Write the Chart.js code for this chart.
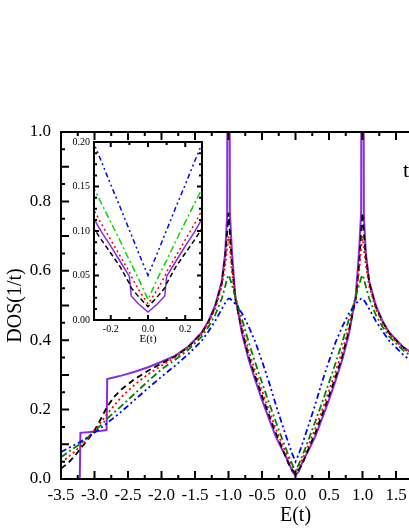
<!DOCTYPE html>
<html>
<head>
<meta charset="utf-8">
<script src="https://cdn.jsdelivr.net/npm/chart.js@4/dist/chart.umd.min.js"></script>
<style>
body { margin: 0; background: #fff; overflow: hidden; }
#wrap { position: relative; width: 409px; height: 529px; overflow: hidden; background: #fff; }
#grafico { position: absolute; left: 0; top: 0; }
#inset { position: absolute; left: 50px; top: 130px; }
</style>
</head>
<body>
<div id="wrap">
  <canvas id="grafico" width="600" height="529"></canvas>
  <canvas id="inset" width="170" height="230"></canvas>
</div>
<script>
// energies (units of t) for the main panel
var energia = [-3.5, -3.4, -3.3, -3.22, -3.21, -3.1, -3.0, -2.9, -2.82, -2.81, -2.7, -2.6, -2.4, -2.2, -2.0, -1.8, -1.6, -1.4, -1.3, -1.2, -1.1, -1.05, -1.02, -1.0, -0.98, -0.95, -0.9, -0.8, -0.7, -0.6, -0.5, -0.4, -0.3, -0.2, -0.1, -0.05, 0,
  0.05, 0.1, 0.2, 0.3, 0.4, 0.5, 0.6, 0.7, 0.8, 0.9, 0.95, 0.98, 1.0, 1.02, 1.05, 1.1, 1.2, 1.3, 1.4, 1.6, 1.8, 2.0, 2.2, 2.4, 2.6, 2.7, 2.81, 2.82, 2.9, 3.0, 3.1, 3.21, 3.22, 3.3, 3.4, 3.5];

var dosRoxo = [0, 0, 0, 0, 0.133, 0.135, 0.137, 0.139, 0.141, 0.288, 0.293, 0.298, 0.309, 0.322, 0.338, 0.355, 0.382, 0.422, 0.455, 0.5, 0.57, 0.65, 0.76, 3.0, 0.77, 0.66, 0.53, 0.42, 0.345, 0.285, 0.228, 0.176, 0.125, 0.085, 0.047, 0.022, 0.01,
  0.022, 0.047, 0.085, 0.125, 0.176, 0.228, 0.285, 0.345, 0.42, 0.53, 0.66, 0.77, 3.0, 0.76, 0.65, 0.57, 0.5, 0.455, 0.422, 0.382, 0.355, 0.338, 0.322, 0.309, 0.298, 0.293, 0.288, 0.141, 0.139, 0.137, 0.135, 0.133, 0, 0, 0, 0];

var dosPreto = [0.03, 0.045, 0.065, 0.085, 0.088, 0.113, 0.14, 0.175, 0.205, 0.209, 0.238, 0.258, 0.288, 0.312, 0.333, 0.353, 0.38, 0.42, 0.452, 0.495, 0.565, 0.64, 0.71, 0.767, 0.71, 0.62, 0.52, 0.43, 0.355, 0.295, 0.24, 0.187, 0.135, 0.09, 0.042, 0.027, 0.015,
  0.027, 0.042, 0.09, 0.135, 0.187, 0.24, 0.295, 0.355, 0.43, 0.52, 0.62, 0.71, 0.767, 0.71, 0.64, 0.565, 0.495, 0.452, 0.42, 0.38, 0.353, 0.333, 0.312, 0.288, 0.258, 0.238, 0.209, 0.205, 0.175, 0.14, 0.113, 0.088, 0.085, 0.065, 0.045, 0.03];

var dosVermelho = [0.048, 0.062, 0.078, 0.093, 0.095, 0.117, 0.14, 0.165, 0.185, 0.188, 0.213, 0.236, 0.272, 0.302, 0.327, 0.35, 0.377, 0.417, 0.448, 0.49, 0.555, 0.615, 0.665, 0.70, 0.67, 0.6, 0.525, 0.44, 0.37, 0.31, 0.255, 0.2, 0.148, 0.1, 0.056, 0.036, 0.018,
  0.036, 0.056, 0.1, 0.148, 0.2, 0.255, 0.31, 0.37, 0.44, 0.525, 0.6, 0.67, 0.70, 0.665, 0.615, 0.555, 0.49, 0.448, 0.417, 0.377, 0.35, 0.327, 0.302, 0.272, 0.236, 0.213, 0.188, 0.185, 0.165, 0.14, 0.117, 0.095, 0.093, 0.078, 0.062, 0.048];

var dosVerde = [0.063, 0.076, 0.09, 0.1, 0.102, 0.12, 0.138, 0.156, 0.172, 0.174, 0.193, 0.21, 0.246, 0.282, 0.316, 0.343, 0.372, 0.41, 0.438, 0.472, 0.52, 0.555, 0.578, 0.588, 0.58, 0.56, 0.525, 0.462, 0.395, 0.335, 0.278, 0.222, 0.168, 0.116, 0.066, 0.043, 0.023,
  0.043, 0.066, 0.116, 0.168, 0.222, 0.278, 0.335, 0.395, 0.462, 0.525, 0.56, 0.58, 0.588, 0.578, 0.555, 0.52, 0.472, 0.438, 0.41, 0.372, 0.343, 0.316, 0.282, 0.246, 0.21, 0.193, 0.174, 0.172, 0.156, 0.138, 0.12, 0.102, 0.1, 0.09, 0.076, 0.063];

var dosAzul = [0.078, 0.088, 0.098, 0.106, 0.107, 0.12, 0.134, 0.148, 0.16, 0.162, 0.178, 0.194, 0.228, 0.262, 0.295, 0.326, 0.36, 0.398, 0.425, 0.455, 0.49, 0.507, 0.516, 0.52, 0.52, 0.515, 0.505, 0.478, 0.44, 0.395, 0.34, 0.282, 0.218, 0.158, 0.1, 0.073, 0.05,
  0.073, 0.1, 0.158, 0.218, 0.282, 0.34, 0.395, 0.44, 0.478, 0.505, 0.515, 0.52, 0.52, 0.516, 0.507, 0.49, 0.455, 0.425, 0.398, 0.36, 0.326, 0.295, 0.262, 0.228, 0.194, 0.178, 0.162, 0.16, 0.148, 0.134, 0.12, 0.107, 0.106, 0.098, 0.088, 0.078];

// inset: zoom around E = 0
var energiaInset = [-0.3, -0.25, -0.2, -0.15, -0.1, -0.09, -0.05, 0, 0.05, 0.09, 0.1, 0.15, 0.2, 0.25, 0.3];
var insetRoxo     = [0.117, 0.099, 0.083, 0.066, 0.049, 0.027, 0.018, 0.009, 0.018, 0.027, 0.049, 0.066, 0.083, 0.099, 0.117];
var insetPreto    = [0.106, 0.09, 0.075, 0.06, 0.041, 0.036, 0.026, 0.015, 0.026, 0.036, 0.041, 0.06, 0.075, 0.09, 0.106];
var insetVermelho = [0.127, 0.108, 0.09, 0.072, 0.054, 0.049, 0.034, 0.018, 0.034, 0.049, 0.054, 0.072, 0.09, 0.108, 0.127];
var insetVerde    = [0.152, 0.131, 0.11, 0.089, 0.067, 0.063, 0.046, 0.023, 0.046, 0.063, 0.067, 0.089, 0.11, 0.131, 0.152];
var insetAzul     = [0.203, 0.178, 0.152, 0.127, 0.101, 0.096, 0.075, 0.05, 0.075, 0.096, 0.101, 0.127, 0.152, 0.178, 0.203];

var insetTicksX = [-0.2, 0, 0.2];

Chart.defaults.font.family = "'Liberation Serif', 'Times New Roman', serif";
Chart.defaults.color = '#000';

function serie(xs, valores, cor, tracejado, largura) {
    return {
        data: xs.map(function (e, i) { return { x: e, y: valores[i] }; }),
        borderColor: cor,
        borderDash: tracejado,
        borderWidth: largura,
        pointRadius: 0,
        fill: false,
        tension: 0
    };
}

// inward ticks on all four sides + frame
var ticksDentro = {
    id: 'ticksDentro',
    beforeDraw: function (chart, args, o) {
        if (!o.fundo) return;
        var a = chart.chartArea, ctx = chart.ctx;
        ctx.save();
        ctx.fillStyle = o.fundo;
        ctx.fillRect(a.left, a.top, a.right - a.left, a.bottom - a.top);
        ctx.restore();
    },
    afterDraw: function (chart, args, o) {
        var ctx = chart.ctx, a = chart.chartArea;
        var sx = chart.scales.x, sy = chart.scales.y;
        ctx.save();
        ctx.strokeStyle = '#000';
        ctx.lineWidth = o.largura;
        ctx.beginPath();
        var v, p, n, L;
        for (n = Math.ceil(sx.min / o.xMenor - 1e-6); n * o.xMenor <= sx.max + 1e-9; n++) {
            v = n * o.xMenor;
            L = Math.abs(v / o.xMaior - Math.round(v / o.xMaior)) < 1e-6 ? o.maior : o.menor;
            p = sx.getPixelForValue(v);
            ctx.moveTo(p, a.bottom); ctx.lineTo(p, a.bottom - L);
            ctx.moveTo(p, a.top); ctx.lineTo(p, a.top + L);
        }
        for (n = Math.ceil(sy.min / o.yMenor - 1e-6); n * o.yMenor <= sy.max + 1e-9; n++) {
            v = n * o.yMenor;
            L = Math.abs(v / o.yMaior - Math.round(v / o.yMaior)) < 1e-6 ? o.maior : o.menor;
            p = sy.getPixelForValue(v);
            ctx.moveTo(a.left, p); ctx.lineTo(a.left + L, p);
            ctx.moveTo(a.right, p); ctx.lineTo(a.right - L, p);
        }
        ctx.stroke();
        ctx.strokeRect(a.left, a.top, a.right - a.left, a.bottom - a.top);
        if (o.texto) {
            ctx.fillStyle = '#000';
            ctx.font = o.texto.fonte;
            ctx.textBaseline = 'middle';
            ctx.fillText(o.texto.t, a.left + o.texto.dx, a.top + o.texto.dy);
        }
        ctx.restore();
    }
};

function fmt1(v) { return Number(v).toFixed(1); }
function fmt2(v) { return Number(v).toFixed(2); }

new Chart(document.getElementById('grafico').getContext('2d'), {
    type: 'line',
    data: {
        datasets: [
            serie(energia, dosAzul, '#0000ff', [6, 3, 2, 3, 2, 3], 1.8),
            serie(energia, dosVerde, '#008000', [7, 3, 2, 3], 1.8),
            serie(energia, dosVermelho, '#ff0000', [2, 3], 1.8),
            serie(energia, dosPreto, '#000000', [6, 4], 1.8),
            serie(energia, dosRoxo, '#8a2be2', [], 2)
        ]
    },
    options: {
        responsive: false,
        animation: false,
        devicePixelRatio: 1,
        layout: { padding: { top: 132, right: 70, left: 0, bottom: 0 } },
        plugins: {
            legend: { display: false },
            tooltip: { enabled: false },
            ticksDentro: {
                largura: 2, maior: 8, menor: 4,
                xMaior: 0.5, xMenor: 0.25, yMaior: 0.1, yMenor: 0.05,
                texto: { t: 't', fonte: '22px "Liberation Serif"', dx: 342, dy: 39 }
            }
        },
        scales: {
            x: {
                type: 'linear', min: -3.5, max: 3.5,
                grid: { display: false, drawTicks: false },
                border: { display: false },
                ticks: { stepSize: 0.5, autoSkip: false, maxRotation: 0, padding: 6, font: { size: 17 }, callback: fmt1 },
                title: { display: true, text: 'E(t)', font: { size: 20 }, padding: { top: 0, bottom: 1 } },
                afterFit: function (s) { s.height = 50; }
            },
            y: {
                min: 0, max: 1,
                grid: { display: false, drawTicks: false },
                border: { display: false },
                ticks: { stepSize: 0.2, padding: 10, font: { size: 17 }, callback: fmt1 },
                title: { display: true, text: 'DOS(1/t)', font: { size: 20 }, padding: { top: 4, bottom: 0 } },
                afterFit: function (s) { s.width = 61; }
            }
        }
    },
    plugins: [ticksDentro]
});

new Chart(document.getElementById('inset').getContext('2d'), {
    type: 'line',
    data: {
        datasets: [
            serie(energiaInset, insetAzul, '#0000ff', [5, 3, 2, 3, 2, 3], 1.5),
            serie(energiaInset, insetVerde, '#00dd00', [7, 3, 2, 3], 1.5),
            serie(energiaInset, insetVermelho, '#ff0000', [2, 3], 1.5),
            serie(energiaInset, insetPreto, '#000000', [5, 3], 1.5),
            serie(energiaInset, insetRoxo, '#8a2be2', [], 1.5)
        ]
    },
    options: {
        responsive: false,
        animation: false,
        devicePixelRatio: 1,
        layout: { padding: { top: 12, right: 18, left: 0, bottom: 0 } },
        plugins: {
            legend: { display: false },
            tooltip: { enabled: false },
            ticksDentro: {
                fundo: '#ffffff',
                largura: 2, maior: 5, menor: 3,
                xMaior: 0.2, xMenor: 0.1, yMaior: 0.05, yMenor: 0.0125
            }
        },
        scales: {
            x: {
                type: 'linear', min: -0.29, max: 0.29,
                grid: { display: false, drawTicks: false },
                border: { display: false },
                afterBuildTicks: function (s) { s.ticks = insetTicksX.map(function (v) { return { value: v }; }); },
                ticks: { autoSkip: false, maxRotation: 0, padding: 3, font: { size: 10 }, callback: fmt1 },
                title: { display: true, text: 'E(t)', font: { size: 11 }, padding: { top: 0, bottom: 14 } },
                afterFit: function (s) { s.height = 40; }
            },
            y: {
                min: 0, max: 0.2,
                grid: { display: false, drawTicks: false },
                border: { display: false },
                ticks: { stepSize: 0.05, padding: 4, font: { size: 10 }, callback: fmt2 },
                afterFit: function (s) { s.width = 44; }
            }
        }
    },
    plugins: [ticksDentro]
});
</script>
</body>
</html>
